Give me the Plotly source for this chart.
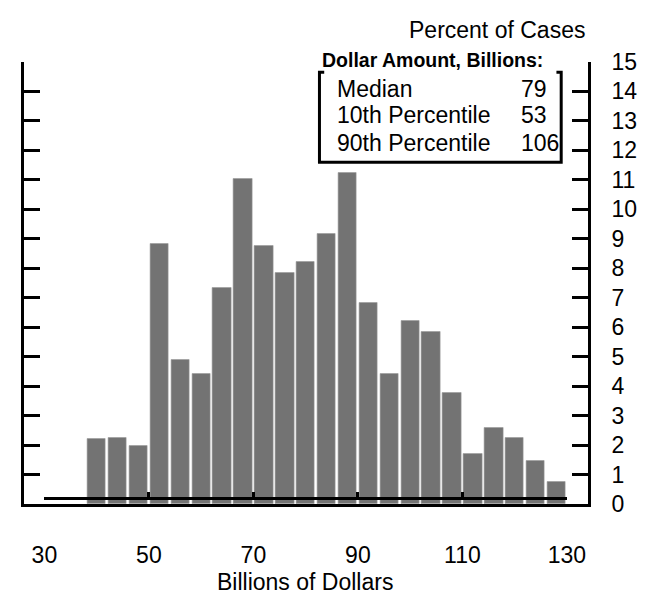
import plotly.graph_objects as go

# ---- data ----
bin_centers = [40, 44, 48, 52, 56, 60, 64, 68, 72, 76, 80, 84, 88, 92, 96, 100, 104, 108, 112, 116, 120, 124, 128]
percent_of_cases = [2.21, 2.26, 1.96, 8.83, 4.90, 4.41, 7.34, 11.03, 8.77, 7.83, 8.20, 9.16, 11.22,
                    6.83, 4.41, 6.21, 5.83, 3.78, 1.70, 2.57, 2.26, 1.45, 0.77]
bin_width = 4
x_ticks = [30, 50, 70, 90, 110, 130]
y_ticks = list(range(0, 16))
stat_labels = ["Median", "10th Percentile", "90th Percentile"]
stat_values = [79, 53, 106]
box_title = "Dollar Amount, Billions:"
x_title = "Billions of Dollars"
y_title = "Percent of Cases"

W, H = 663, 608
FONT = "Liberation Sans, Arial, sans-serif"
FS = 23


def px(x):
    return x / W


def py(y):
    return 1 - y / H


# pixel geometry of the plot frame
x_left, x_right = 12, 604
y_top, y_base = 51, 513
ax_x0, ax_x1 = 33, 582          # pixel span of 30..130
scale = (ax_x1 - ax_x0) / (x_ticks[-1] - x_ticks[0])
xr0 = x_ticks[0] + (x_left - ax_x0) / scale
xr1 = x_ticks[0] + (x_right - ax_x0) / scale

fig = go.Figure()
fig.add_trace(go.Bar(x=bin_centers, y=percent_of_cases, width=[bin_width * 0.88] * len(bin_centers),
                     marker=dict(color="#737373", line=dict(width=0.6, color="#9a9a9a")),
                     xaxis="x", yaxis="y", showlegend=False))
# helper trace to attach the labelled x axis
fig.add_trace(go.Scatter(x=[x_ticks[0], x_ticks[-1]], y=[None, None], xaxis="x2", yaxis="y",
                         mode="lines", showlegend=False, hoverinfo="skip"))

fig.update_layout(
    width=W, height=H,
    margin=dict(l=0, r=0, t=0, b=0),
    paper_bgcolor="white", plot_bgcolor="rgba(0,0,0,0)",
    font=dict(family=FONT, size=FS, color="black"),
    xaxis=dict(domain=[px(x_left), px(x_right)], range=[xr0, xr1], showline=True, linewidth=3,
               linecolor="black", showgrid=False, zeroline=False, showticklabels=False, ticks=""),
    xaxis2=dict(domain=[px(ax_x0), px(ax_x1)], range=[x_ticks[0], x_ticks[-1]], anchor="free",
                position=py(507), showline=True, linewidth=2.5, linecolor="black",
                ticks="inside", ticklen=6, tickwidth=2.5, tickcolor="black",
                tickvals=x_ticks, ticktext=[str(t) for t in x_ticks], showgrid=False, zeroline=False,
                ticklabelstandoff=35, tickfont=dict(size=FS)),
    yaxis=dict(domain=[py(y_base), py(y_top)], range=[0, 15], side="right", anchor="x",
               showline=True, linewidth=3, linecolor="black", mirror="ticks",
               ticks="inside", ticklen=16, tickwidth=3, tickcolor="black",
               tickvals=y_ticks, ticktext=[str(t) for t in y_ticks],
               showgrid=False, zeroline=False, ticklabelstandoff=16, tickfont=dict(size=FS)),
    bargap=0,
)

# legend box (bracket style)
path = (f"M {px(327)},{py(62)} L {px(322)},{py(62)} L {px(322)},{py(156)} "
        f"L {px(576)},{py(156)} L {px(576)},{py(62)} L {px(571)},{py(62)}")
fig.add_shape(type="path", path=path, xref="paper", yref="paper",
              line=dict(color="black", width=3))

ann = []
ann.append(dict(text=y_title, x=px(603), y=py(18), xanchor="right", yanchor="middle"))
ann.append(dict(text=f"<b>{box_title}</b>", x=px(323), y=py(49), xanchor="left", yanchor="middle",
                font=dict(size=19.5)))
for i, (lab, val) in enumerate(zip(stat_labels, stat_values)):
    yy = [79, 107, 136][i]
    ann.append(dict(text=lab, x=px(338), y=py(yy), xanchor="left", yanchor="middle"))
    ann.append(dict(text=str(val), x=px(532), y=py(yy), xanchor="left", yanchor="middle"))
ann.append(dict(text=x_title, x=px(307), y=py(594), xanchor="center", yanchor="middle"))
for a in ann:
    a.update(xref="paper", yref="paper", showarrow=False)
    a.setdefault("font", dict(size=FS))
fig.update_layout(annotations=ann)

fig.write_html("out.html", config={"displayModeBar": False},
               post_script="document.body.style.margin='0';")
